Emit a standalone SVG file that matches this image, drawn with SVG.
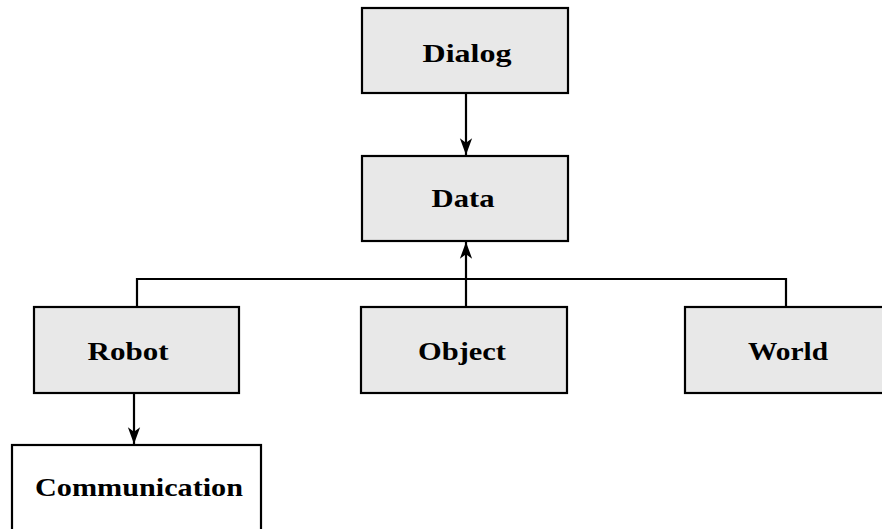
<svg xmlns="http://www.w3.org/2000/svg" width="882" height="529" viewBox="0 0 882 529">
<style>
.box{fill:#e8e8e8;stroke:#000;stroke-width:2.2}
.wbox{fill:#fff;stroke:#000;stroke-width:2.2}
.lbl{font-family:"Liberation Serif","DejaVu Serif",serif;font-weight:bold;font-size:25px;fill:#000;text-anchor:middle}
.edge{fill:none;stroke:#000;stroke-width:2.2}
</style>
<defs>
<marker id="ah" markerUnits="userSpaceOnUse" markerWidth="20" markerHeight="20" viewBox="-16 -8 18 16" refX="0" refY="0" orient="auto">
<path d="M0,0 L-15,-5.5 L-11,0 L-15,5.5 Z" fill="#000"/>
</marker>
</defs>
<rect width="882" height="529" fill="#fff"/>
<g id="connectors">
<path class="edge" d="M466,93 L466,155" marker-end="url(#ah)"/>
<path class="edge" d="M466,307 L466,242" marker-end="url(#ah)"/>
<path class="edge" d="M137,307 L137,279 L786,279 L786,307"/>
<path class="edge" d="M134,393 L134,444" marker-end="url(#ah)"/>
</g>
<g id="dialog">
<rect class="box" x="362" y="8" width="206" height="85"/>
<text class="lbl" x="467" y="62" textLength="89" lengthAdjust="spacingAndGlyphs">Dialog</text>
</g>
<g id="data">
<rect class="box" x="362" y="156" width="206" height="85"/>
<text class="lbl" x="463" y="207" textLength="63" lengthAdjust="spacingAndGlyphs">Data</text>
</g>
<g id="robot">
<rect class="box" x="34" y="307" width="205" height="86"/>
<text class="lbl" x="128" y="360" textLength="81" lengthAdjust="spacingAndGlyphs">Robot</text>
</g>
<g id="object">
<rect class="box" x="361" y="307" width="206" height="86"/>
<text class="lbl" x="462" y="360" textLength="88" lengthAdjust="spacingAndGlyphs">Object</text>
</g>
<g id="world">
<rect class="box" x="685" y="307" width="210" height="86"/>
<text class="lbl" x="788" y="360" textLength="80" lengthAdjust="spacingAndGlyphs">World</text>
</g>
<g id="communication">
<rect class="wbox" x="12" y="445" width="249" height="90"/>
<text class="lbl" x="139" y="496" textLength="208" lengthAdjust="spacingAndGlyphs">Communication</text>
</g>
</svg>
